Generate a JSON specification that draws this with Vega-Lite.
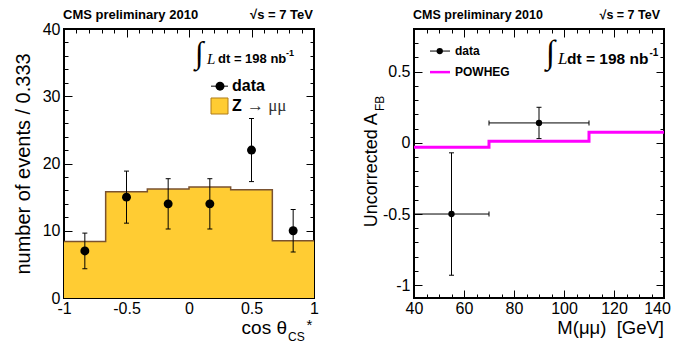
{
  "$schema": "https://vega.github.io/schema/vega-lite/v6.json",
  "background": "white",
  "padding": {"left": 12, "top": 8, "right": 0, "bottom": 0},
  "spacing": 100,
  "bounds": "flush",
  "datasets": {
    "step": [
      {"x": -1, "y": 8.4},
      {"x": -0.6667, "y": 15.8},
      {"x": -0.3333, "y": 16.2},
      {"x": 0, "y": 16.5},
      {"x": 0.3333, "y": 16.1},
      {"x": 0.6667, "y": 8.5},
      {"x": 1, "y": 8.5}
    ],
    "pts": [
      {"x": -0.8333, "n": 7, "lo": 4.35, "hi": 9.65},
      {"x": -0.5, "n": 15, "lo": 11.13, "hi": 18.87},
      {"x": -0.1667, "n": 14, "lo": 10.26, "hi": 17.74},
      {"x": 0.1667, "n": 14, "lo": 10.26, "hi": 17.74},
      {"x": 0.5, "n": 22, "lo": 17.31, "hi": 26.69},
      {"x": 0.8333, "n": 10, "lo": 6.84, "hi": 13.16}
    ],
    "afb": [
      {"m": 55, "a": -0.5, "mlo": 40, "mhi": 70, "alo": -0.93, "ahi": -0.07},
      {"m": 90, "a": 0.14, "mlo": 70, "mhi": 110, "alo": 0.03, "ahi": 0.25}
    ],
    "powheg": [
      {"m": 40, "a": -0.03},
      {"m": 70, "a": 0.012},
      {"m": 110, "a": 0.075},
      {"m": 140, "a": 0.075}
    ],
    "one": [{}]
  },
  "hconcat": [
    {
      "width": 250,
      "height": 269,
      "layer": [
        {
          "data": {"name": "step"},
          "mark": {"type": "area", "interpolate": "step-after", "fill": "#ffcc33", "opacity": 1, "fillOpacity": 1},
          "encoding": {
            "x": {"field": "x", "type": "quantitative", "scale": {"domain": [-1, 1], "nice": false, "zero": false},
              "axis": {"orient": "bottom", "title": null, "values": [-1, -0.5, 0, 0.5, 1], "tickSize": -8, "labelPadding": 10, "labelExpr": "'' + datum.value"}},
            "y": {"field": "y", "type": "quantitative", "scale": {"domain": [0, 40], "nice": false, "zero": false},
              "axis": {"orient": "left", "title": null, "values": [0, 10, 20, 30, 40], "tickSize": -8, "labelPadding": 12, "labelExpr": "'' + datum.value"}},
            "y2": {"datum": 0}
          }
        },
        {
          "data": {"name": "step"},
          "mark": {"type": "line", "interpolate": "step-after", "stroke": "#7a5230", "strokeWidth": 1.5},
          "encoding": {
            "x": {"field": "x", "type": "quantitative", "scale": {"domain": [-1, 1], "nice": false, "zero": false},
              "axis": {"orient": "top", "title": null, "values": [-1, -0.5, 0, 0.5, 1], "tickSize": -8, "labels": false}},
            "y": {"field": "y", "type": "quantitative", "scale": {"domain": [0, 40], "nice": false, "zero": false},
              "axis": {"orient": "right", "title": null, "values": [0, 10, 20, 30, 40], "tickSize": -8, "labels": false}}
          }
        },
        {
          "data": {"name": "pts"},
          "mark": {"type": "rule", "color": "black", "strokeWidth": 1},
          "encoding": {
            "x": {"field": "x", "type": "quantitative", "scale": {"domain": [-1, 1], "nice": false, "zero": false},
              "axis": {"orient": "bottom", "title": null, "values": [-0.9, -0.8, -0.7, -0.6, -0.4, -0.3, -0.2, -0.1, 0.1, 0.2, 0.3, 0.4, 0.6, 0.7, 0.8, 0.9], "tickSize": -4, "labels": false}},
            "y": {"field": "lo", "type": "quantitative", "scale": {"domain": [0, 40], "nice": false, "zero": false},
              "axis": {"orient": "left", "title": null, "values": [2, 4, 6, 8, 12, 14, 16, 18, 22, 24, 26, 28, 32, 34, 36, 38], "tickSize": -4, "labels": false}},
            "y2": {"field": "hi"}
          }
        },
        {
          "data": {"name": "pts"},
          "mark": {"type": "tick", "orient": "horizontal", "size": 5, "thickness": 1, "color": "black", "opacity": 1},
          "encoding": {
            "x": {"field": "x", "type": "quantitative", "scale": {"domain": [-1, 1], "nice": false, "zero": false},
              "axis": {"orient": "top", "title": null, "values": [-0.9, -0.8, -0.7, -0.6, -0.4, -0.3, -0.2, -0.1, 0.1, 0.2, 0.3, 0.4, 0.6, 0.7, 0.8, 0.9], "tickSize": -4, "labels": false}},
            "y": {"field": "lo", "type": "quantitative", "scale": {"domain": [0, 40], "nice": false, "zero": false},
              "axis": {"orient": "right", "title": null, "values": [2, 4, 6, 8, 12, 14, 16, 18, 22, 24, 26, 28, 32, 34, 36, 38], "tickSize": -4, "labels": false}}
          }
        },
        {
          "data": {"name": "pts"},
          "mark": {"type": "tick", "orient": "horizontal", "size": 5, "thickness": 1, "color": "black", "opacity": 1},
          "encoding": {
            "x": {"field": "x", "type": "quantitative", "scale": {"domain": [-1, 1], "nice": false, "zero": false}, "axis": null},
            "y": {"field": "hi", "type": "quantitative", "scale": {"domain": [0, 40], "nice": false, "zero": false}, "axis": null}
          }
        },
        {
          "data": {"name": "pts"},
          "mark": {"type": "circle", "size": 80, "color": "black", "opacity": 1},
          "encoding": {
            "x": {"field": "x", "type": "quantitative", "scale": {"domain": [-1, 1], "nice": false, "zero": false}, "axis": null},
            "y": {"field": "n", "type": "quantitative", "scale": {"domain": [0, 40], "nice": false, "zero": false}, "axis": null}
          }
        },
        {
          "data": {"name": "one"},
          "mark": {"type": "rule", "color": "black", "strokeWidth": 1},
          "encoding": {
            "x": {"datum": 0.176, "type": "quantitative", "scale": {"domain": [-1, 1], "nice": false, "zero": false}, "axis": null},
            "x2": {"datum": 0.312},
            "y": {"datum": 31.5, "type": "quantitative", "scale": {"domain": [0, 40], "nice": false, "zero": false}, "axis": null}
          }
        },
        {
          "data": {"name": "one"},
          "mark": {"type": "circle", "size": 80, "color": "black", "opacity": 1},
          "encoding": {
            "x": {"datum": 0.248, "type": "quantitative", "scale": {"domain": [-1, 1], "nice": false, "zero": false}, "axis": null},
            "y": {"datum": 31.5, "type": "quantitative", "scale": {"domain": [0, 40], "nice": false, "zero": false}, "axis": null}
          }
        },
        {
          "data": {"name": "one"},
          "mark": {"type": "rect", "fill": "#ffcc33", "stroke": "#b07d1a", "strokeWidth": 1},
          "encoding": {
            "x": {"datum": 0.176, "type": "quantitative", "scale": {"domain": [-1, 1], "nice": false, "zero": false}, "axis": null},
            "x2": {"datum": 0.312},
            "y": {"datum": 27.36, "type": "quantitative", "scale": {"domain": [0, 40], "nice": false, "zero": false}, "axis": null},
            "y2": {"datum": 29.74}
          }
        },
        {
          "data": {"name": "one"},
          "mark": {"type": "text", "text": "data", "font": "Liberation Sans", "fontWeight": "bold", "fontSize": 16, "align": "left", "baseline": "middle", "fill": "black"},
          "encoding": {
            "x": {"datum": 0.344, "type": "quantitative", "scale": {"domain": [-1, 1], "nice": false, "zero": false}, "axis": null},
            "y": {"datum": 31.5, "type": "quantitative", "scale": {"domain": [0, 40], "nice": false, "zero": false}, "axis": null}
          }
        },
        {
          "data": {"name": "one"},
          "mark": {"type": "text", "text": "Z", "font": "Liberation Sans", "fontWeight": "bold", "fontSize": 16, "align": "left", "baseline": "middle", "fill": "black"},
          "encoding": {
            "x": {"datum": 0.344, "type": "quantitative", "scale": {"domain": [-1, 1], "nice": false, "zero": false}, "axis": null},
            "y": {"datum": 28.55, "type": "quantitative", "scale": {"domain": [0, 40], "nice": false, "zero": false}, "axis": null}
          }
        },
        {
          "data": {"name": "one"},
          "mark": {"type": "text", "text": "→ μμ", "font": "Liberation Serif", "fontSize": 17, "align": "left", "baseline": "middle", "fill": "#333333"},
          "encoding": {
            "x": {"datum": 0.464, "type": "quantitative", "scale": {"domain": [-1, 1], "nice": false, "zero": false}, "axis": null},
            "y": {"datum": 28.55, "type": "quantitative", "scale": {"domain": [0, 40], "nice": false, "zero": false}, "axis": null}
          }
        },
        {
          "data": {"name": "one"},
          "mark": {"type": "text", "text": "∫", "font": "Liberation Serif", "fontSize": 31, "align": "left", "baseline": "middle", "fill": "black"},
          "encoding": {
            "x": {"datum": 0.048, "type": "quantitative", "scale": {"domain": [-1, 1], "nice": false, "zero": false}, "axis": null},
            "y": {"datum": 36.3, "type": "quantitative", "scale": {"domain": [0, 40], "nice": false, "zero": false}, "axis": null}
          }
        },
        {
          "data": {"name": "one"},
          "mark": {"type": "text", "text": "L", "font": "Liberation Serif", "fontStyle": "italic", "fontSize": 15, "align": "left", "baseline": "middle", "fill": "black"},
          "encoding": {
            "x": {"datum": 0.144, "type": "quantitative", "scale": {"domain": [-1, 1], "nice": false, "zero": false}, "axis": null},
            "y": {"datum": 35.6, "type": "quantitative", "scale": {"domain": [0, 40], "nice": false, "zero": false}, "axis": null}
          }
        },
        {
          "data": {"name": "one"},
          "mark": {"type": "text", "text": "dt = 198 nb", "font": "Liberation Sans", "fontWeight": "bold", "fontSize": 13, "align": "left", "baseline": "middle", "fill": "black"},
          "encoding": {
            "x": {"datum": 0.232, "type": "quantitative", "scale": {"domain": [-1, 1], "nice": false, "zero": false}, "axis": null},
            "y": {"datum": 35.6, "type": "quantitative", "scale": {"domain": [0, 40], "nice": false, "zero": false}, "axis": null}
          }
        },
        {
          "data": {"name": "one"},
          "mark": {"type": "text", "text": "-1", "font": "Liberation Sans", "fontWeight": "bold", "fontSize": 9, "align": "left", "baseline": "middle", "fill": "black"},
          "encoding": {
            "x": {"datum": 0.776, "type": "quantitative", "scale": {"domain": [-1, 1], "nice": false, "zero": false}, "axis": null},
            "y": {"datum": 36.5, "type": "quantitative", "scale": {"domain": [0, 40], "nice": false, "zero": false}, "axis": null}
          }
        },
        {
          "data": {"name": "one"},
          "mark": {"type": "text", "text": "CMS preliminary 2010", "font": "Liberation Sans", "fontWeight": "bold", "fontSize": 13, "align": "left", "baseline": "middle", "fill": "black"},
          "encoding": {
            "x": {"datum": -1.008, "type": "quantitative", "scale": {"domain": [-1, 1], "nice": false, "zero": false}, "axis": null},
            "y": {"datum": 42.08, "type": "quantitative", "scale": {"domain": [0, 40], "nice": false, "zero": false}, "axis": null}
          }
        },
        {
          "data": {"name": "one"},
          "mark": {"type": "text", "text": "√s = 7 TeV", "font": "Liberation Sans", "fontWeight": "bold", "fontSize": 13, "align": "right", "baseline": "middle", "fill": "black"},
          "encoding": {
            "x": {"datum": 0.992, "type": "quantitative", "scale": {"domain": [-1, 1], "nice": false, "zero": false}, "axis": null},
            "y": {"datum": 42.08, "type": "quantitative", "scale": {"domain": [0, 40], "nice": false, "zero": false}, "axis": null}
          }
        },
        {
          "data": {"name": "one"},
          "mark": {"type": "text", "text": "number of events / 0.333", "font": "Liberation Sans", "fontSize": 20, "angle": 270, "align": "center", "baseline": "alphabetic", "fill": "black"},
          "encoding": {
            "x": {"datum": -1.272, "type": "quantitative", "scale": {"domain": [-1, 1], "nice": false, "zero": false}, "axis": null},
            "y": {"datum": 19.93, "type": "quantitative", "scale": {"domain": [0, 40], "nice": false, "zero": false}, "axis": null}
          }
        },
        {
          "data": {"name": "one"},
          "mark": {"type": "text", "text": "cos θ", "font": "Liberation Sans", "fontSize": 19, "align": "right", "baseline": "alphabetic", "fill": "black"},
          "encoding": {
            "x": {"datum": 0.784, "type": "quantitative", "scale": {"domain": [-1, 1], "nice": false, "zero": false}, "axis": null},
            "y": {"datum": -5.4, "type": "quantitative", "scale": {"domain": [0, 40], "nice": false, "zero": false}, "axis": null}
          }
        },
        {
          "data": {"name": "one"},
          "mark": {"type": "text", "text": "CS", "font": "Liberation Sans", "fontSize": 12, "align": "left", "baseline": "alphabetic", "fill": "black"},
          "encoding": {
            "x": {"datum": 0.792, "type": "quantitative", "scale": {"domain": [-1, 1], "nice": false, "zero": false}, "axis": null},
            "y": {"datum": -6.39, "type": "quantitative", "scale": {"domain": [0, 40], "nice": false, "zero": false}, "axis": null}
          }
        },
        {
          "data": {"name": "one"},
          "mark": {"type": "text", "text": "*", "font": "Liberation Sans", "fontSize": 15, "align": "left", "baseline": "alphabetic", "fill": "black"},
          "encoding": {
            "x": {"datum": 0.94, "type": "quantitative", "scale": {"domain": [-1, 1], "nice": false, "zero": false}, "axis": null},
            "y": {"datum": -4.76, "type": "quantitative", "scale": {"domain": [0, 40], "nice": false, "zero": false}, "axis": null}
          }
        }
      ],
      "resolve": {"axis": {"x": "independent", "y": "independent"}}
    },
    {
      "width": 250,
      "height": 269,
      "layer": [
        {
          "data": {"name": "powheg"},
          "mark": {"type": "line", "interpolate": "step-after", "stroke": "#ff00ff", "strokeWidth": 3},
          "encoding": {
            "x": {"field": "m", "type": "quantitative", "scale": {"domain": [40, 140], "nice": false, "zero": false},
              "axis": {"orient": "bottom", "title": null, "values": [40, 60, 80, 100, 120, 140], "tickSize": -8, "labelPadding": 10, "labelExpr": "'' + datum.value",
                "labelOffset": {"condition": {"test": "datum.value === 140", "value": -7}, "value": 0}}},
            "y": {"field": "a", "type": "quantitative", "scale": {"domain": [-1.09, 0.8], "nice": false, "zero": false},
              "axis": {"orient": "left", "title": null, "values": [-1, -0.5, 0, 0.5], "tickSize": -8, "labelPadding": 12, "labelExpr": "'' + datum.value"}}
          }
        },
        {
          "data": {"name": "afb"},
          "mark": {"type": "rule", "color": "black", "strokeWidth": 1},
          "encoding": {
            "x": {"field": "m", "type": "quantitative", "scale": {"domain": [40, 140], "nice": false, "zero": false},
              "axis": {"orient": "top", "title": null, "values": [40, 60, 80, 100, 120, 140], "tickSize": -8, "labels": false}},
            "y": {"field": "alo", "type": "quantitative", "scale": {"domain": [-1.09, 0.8], "nice": false, "zero": false},
              "axis": {"orient": "right", "title": null, "values": [-1, -0.5, 0, 0.5], "tickSize": -8, "labels": false}},
            "y2": {"field": "ahi"}
          }
        },
        {
          "data": {"name": "afb"},
          "mark": {"type": "rule", "color": "black", "strokeWidth": 1},
          "encoding": {
            "x": {"field": "mlo", "type": "quantitative", "scale": {"domain": [40, 140], "nice": false, "zero": false},
              "axis": {"orient": "bottom", "title": null, "values": [45, 50, 55, 65, 70, 75, 85, 90, 95, 105, 110, 115, 125, 130, 135], "tickSize": -4, "labels": false}},
            "x2": {"field": "mhi"},
            "y": {"field": "a", "type": "quantitative", "scale": {"domain": [-1.09, 0.8], "nice": false, "zero": false},
              "axis": {"orient": "left", "title": null, "values": [-0.9, -0.8, -0.7, -0.6, -0.4, -0.3, -0.2, -0.1, 0.1, 0.2, 0.3, 0.4, 0.6, 0.7], "tickSize": -4, "labels": false}}
          }
        },
        {
          "data": {"name": "afb"},
          "mark": {"type": "tick", "orient": "horizontal", "size": 5, "thickness": 1, "color": "black", "opacity": 1},
          "encoding": {
            "x": {"field": "m", "type": "quantitative", "scale": {"domain": [40, 140], "nice": false, "zero": false},
              "axis": {"orient": "top", "title": null, "values": [45, 50, 55, 65, 70, 75, 85, 90, 95, 105, 110, 115, 125, 130, 135], "tickSize": -4, "labels": false}},
            "y": {"field": "alo", "type": "quantitative", "scale": {"domain": [-1.09, 0.8], "nice": false, "zero": false},
              "axis": {"orient": "right", "title": null, "values": [-0.9, -0.8, -0.7, -0.6, -0.4, -0.3, -0.2, -0.1, 0.1, 0.2, 0.3, 0.4, 0.6, 0.7], "tickSize": -4, "labels": false}}
          }
        },
        {
          "data": {"name": "afb"},
          "mark": {"type": "tick", "orient": "horizontal", "size": 5, "thickness": 1, "color": "black", "opacity": 1},
          "encoding": {
            "x": {"field": "m", "type": "quantitative", "scale": {"domain": [40, 140], "nice": false, "zero": false}, "axis": null},
            "y": {"field": "ahi", "type": "quantitative", "scale": {"domain": [-1.09, 0.8], "nice": false, "zero": false}, "axis": null}
          }
        },
        {
          "data": {"name": "afb"},
          "mark": {"type": "tick", "orient": "vertical", "size": 5, "thickness": 1, "color": "black", "opacity": 1},
          "encoding": {
            "x": {"field": "mlo", "type": "quantitative", "scale": {"domain": [40, 140], "nice": false, "zero": false}, "axis": null},
            "y": {"field": "a", "type": "quantitative", "scale": {"domain": [-1.09, 0.8], "nice": false, "zero": false}, "axis": null}
          }
        },
        {
          "data": {"name": "afb"},
          "mark": {"type": "tick", "orient": "vertical", "size": 5, "thickness": 1, "color": "black", "opacity": 1},
          "encoding": {
            "x": {"field": "mhi", "type": "quantitative", "scale": {"domain": [40, 140], "nice": false, "zero": false}, "axis": null},
            "y": {"field": "a", "type": "quantitative", "scale": {"domain": [-1.09, 0.8], "nice": false, "zero": false}, "axis": null}
          }
        },
        {
          "data": {"name": "afb"},
          "mark": {"type": "circle", "size": 40, "color": "black", "opacity": 1},
          "encoding": {
            "x": {"field": "m", "type": "quantitative", "scale": {"domain": [40, 140], "nice": false, "zero": false}, "axis": null},
            "y": {"field": "a", "type": "quantitative", "scale": {"domain": [-1.09, 0.8], "nice": false, "zero": false}, "axis": null}
          }
        },
        {
          "data": {"name": "one"},
          "mark": {"type": "rule", "color": "black", "strokeWidth": 1},
          "encoding": {
            "x": {"datum": 46.4, "type": "quantitative", "scale": {"domain": [40, 140], "nice": false, "zero": false}, "axis": null},
            "x2": {"datum": 54.4},
            "y": {"datum": 0.645, "type": "quantitative", "scale": {"domain": [-1.09, 0.8], "nice": false, "zero": false}, "axis": null}
          }
        },
        {
          "data": {"name": "one"},
          "mark": {"type": "circle", "size": 40, "color": "black", "opacity": 1},
          "encoding": {
            "x": {"datum": 50.3, "type": "quantitative", "scale": {"domain": [40, 140], "nice": false, "zero": false}, "axis": null},
            "y": {"datum": 0.645, "type": "quantitative", "scale": {"domain": [-1.09, 0.8], "nice": false, "zero": false}, "axis": null}
          }
        },
        {
          "data": {"name": "one"},
          "mark": {"type": "rule", "color": "#ff00ff", "strokeWidth": 2.5},
          "encoding": {
            "x": {"datum": 46.4, "type": "quantitative", "scale": {"domain": [40, 140], "nice": false, "zero": false}, "axis": null},
            "x2": {"datum": 54.4},
            "y": {"datum": 0.497, "type": "quantitative", "scale": {"domain": [-1.09, 0.8], "nice": false, "zero": false}, "axis": null}
          }
        },
        {
          "data": {"name": "one"},
          "mark": {"type": "text", "text": "data", "font": "Liberation Sans", "fontWeight": "bold", "fontSize": 12, "align": "left", "baseline": "middle", "fill": "black"},
          "encoding": {
            "x": {"datum": 56.4, "type": "quantitative", "scale": {"domain": [40, 140], "nice": false, "zero": false}, "axis": null},
            "y": {"datum": 0.645, "type": "quantitative", "scale": {"domain": [-1.09, 0.8], "nice": false, "zero": false}, "axis": null}
          }
        },
        {
          "data": {"name": "one"},
          "mark": {"type": "text", "text": "POWHEG", "font": "Liberation Sans", "fontWeight": "bold", "fontSize": 12, "align": "left", "baseline": "middle", "fill": "black"},
          "encoding": {
            "x": {"datum": 56.4, "type": "quantitative", "scale": {"domain": [40, 140], "nice": false, "zero": false}, "axis": null},
            "y": {"datum": 0.497, "type": "quantitative", "scale": {"domain": [-1.09, 0.8], "nice": false, "zero": false}, "axis": null}
          }
        },
        {
          "data": {"name": "one"},
          "mark": {"type": "text", "text": "∫", "font": "Liberation Serif", "fontSize": 33, "align": "left", "baseline": "middle", "fill": "black"},
          "encoding": {
            "x": {"datum": 92.8, "type": "quantitative", "scale": {"domain": [40, 140], "nice": false, "zero": false}, "axis": null},
            "y": {"datum": 0.63, "type": "quantitative", "scale": {"domain": [-1.09, 0.8], "nice": false, "zero": false}, "axis": null}
          }
        },
        {
          "data": {"name": "one"},
          "mark": {"type": "text", "text": "L", "font": "Liberation Serif", "fontStyle": "italic", "fontSize": 17, "align": "left", "baseline": "middle", "fill": "black"},
          "encoding": {
            "x": {"datum": 97.6, "type": "quantitative", "scale": {"domain": [40, 140], "nice": false, "zero": false}, "axis": null},
            "y": {"datum": 0.589, "type": "quantitative", "scale": {"domain": [-1.09, 0.8], "nice": false, "zero": false}, "axis": null}
          }
        },
        {
          "data": {"name": "one"},
          "mark": {"type": "text", "text": "dt = 198 nb", "font": "Liberation Sans", "fontWeight": "bold", "fontSize": 15.5, "align": "left", "baseline": "middle", "fill": "black"},
          "encoding": {
            "x": {"datum": 101.2, "type": "quantitative", "scale": {"domain": [40, 140], "nice": false, "zero": false}, "axis": null},
            "y": {"datum": 0.589, "type": "quantitative", "scale": {"domain": [-1.09, 0.8], "nice": false, "zero": false}, "axis": null}
          }
        },
        {
          "data": {"name": "one"},
          "mark": {"type": "text", "text": "-1", "font": "Liberation Sans", "fontWeight": "bold", "fontSize": 10, "align": "left", "baseline": "middle", "fill": "black"},
          "encoding": {
            "x": {"datum": 134.2, "type": "quantitative", "scale": {"domain": [40, 140], "nice": false, "zero": false}, "axis": null},
            "y": {"datum": 0.63, "type": "quantitative", "scale": {"domain": [-1.09, 0.8], "nice": false, "zero": false}, "axis": null}
          }
        },
        {
          "data": {"name": "one"},
          "mark": {"type": "text", "text": "CMS preliminary 2010", "font": "Liberation Sans", "fontWeight": "bold", "fontSize": 12.5, "align": "left", "baseline": "middle", "fill": "black"},
          "encoding": {
            "x": {"datum": 39.6, "type": "quantitative", "scale": {"domain": [40, 140], "nice": false, "zero": false}, "axis": null},
            "y": {"datum": 0.898, "type": "quantitative", "scale": {"domain": [-1.09, 0.8], "nice": false, "zero": false}, "axis": null}
          }
        },
        {
          "data": {"name": "one"},
          "mark": {"type": "text", "text": "√s = 7 TeV", "font": "Liberation Sans", "fontWeight": "bold", "fontSize": 12.5, "align": "right", "baseline": "middle", "fill": "black"},
          "encoding": {
            "x": {"datum": 138.4, "type": "quantitative", "scale": {"domain": [40, 140], "nice": false, "zero": false}, "axis": null},
            "y": {"datum": 0.898, "type": "quantitative", "scale": {"domain": [-1.09, 0.8], "nice": false, "zero": false}, "axis": null}
          }
        },
        {
          "data": {"name": "one"},
          "mark": {"type": "text", "text": "Uncorrected A", "font": "Liberation Sans", "fontSize": 18, "angle": 270, "align": "right", "baseline": "alphabetic", "fill": "black"},
          "encoding": {
            "x": {"datum": 25.2, "type": "quantitative", "scale": {"domain": [40, 140], "nice": false, "zero": false}, "axis": null},
            "y": {"datum": 0.208, "type": "quantitative", "scale": {"domain": [-1.09, 0.8], "nice": false, "zero": false}, "axis": null}
          }
        },
        {
          "data": {"name": "one"},
          "mark": {"type": "text", "text": "FB", "font": "Liberation Sans", "fontSize": 12, "angle": 270, "align": "left", "baseline": "alphabetic", "fill": "black"},
          "encoding": {
            "x": {"datum": 28, "type": "quantitative", "scale": {"domain": [40, 140], "nice": false, "zero": false}, "axis": null},
            "y": {"datum": 0.223, "type": "quantitative", "scale": {"domain": [-1.09, 0.8], "nice": false, "zero": false}, "axis": null}
          }
        },
        {
          "data": {"name": "one"},
          "mark": {"type": "text", "text": "M(μμ)\u00a0\u00a0[GeV]", "font": "Liberation Sans", "fontSize": 18.5, "align": "right", "baseline": "alphabetic", "fill": "black"},
          "encoding": {
            "x": {"datum": 140, "type": "quantitative", "scale": {"domain": [40, 140], "nice": false, "zero": false}, "axis": null},
            "y": {"datum": -1.345, "type": "quantitative", "scale": {"domain": [-1.09, 0.8], "nice": false, "zero": false}, "axis": null}
          }
        }
      ],
      "resolve": {"axis": {"x": "independent", "y": "independent"}}
    }
  ],
  "config": {
    "view": {"stroke": "black", "strokeWidth": 2},
    "font": "Liberation Sans",
    "axis": {
      "domain": false,
      "grid": false,
      "tickColor": "black",
      "tickWidth": 1,
      "labelFont": "Liberation Sans",
      "labelFontSize": 16,
      "labelColor": "black",
      "labelFlush": false,
      "labelOverlap": false,
      "zindex": 1
    }
  }
}
